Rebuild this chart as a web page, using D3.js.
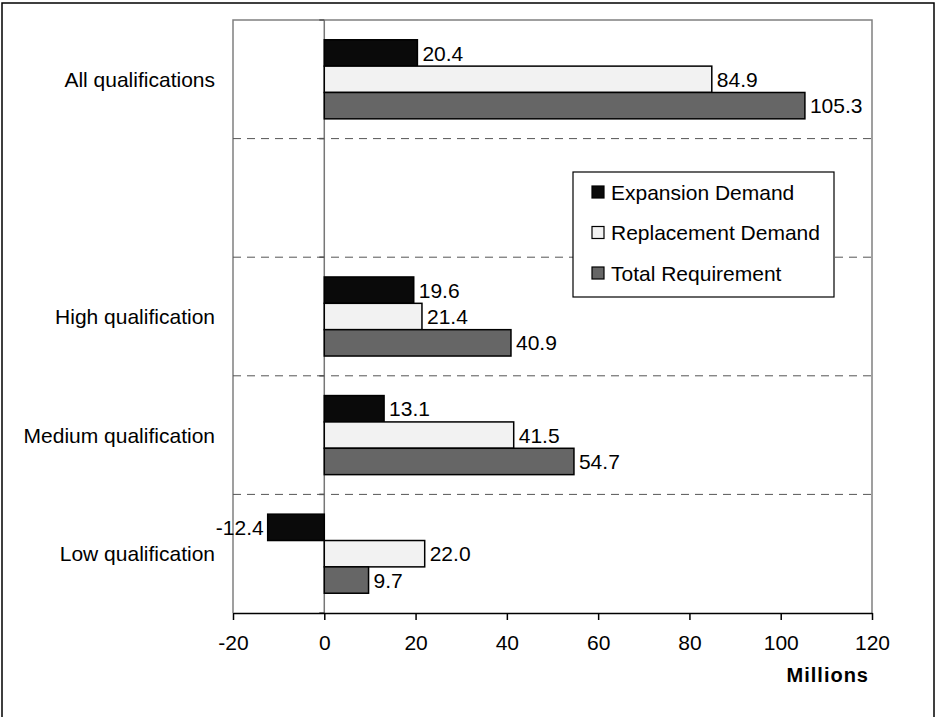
<html>
<head>
<meta charset="utf-8">
<title>Demand by qualification</title>
<script src="https://d3js.org/d3.v7.min.js"></script>
<style>
  body { margin: 0; background: #fff; }
  svg text { font-family: "Liberation Sans", Arial, sans-serif; fill: #000; }
</style>
</head>
<body>
<div id="chart"></div>
<script>
// data (millions)
const categories = ["All qualifications", "", "High qualification", "Medium qualification", "Low qualification"];
const seriesNames = ["Expansion Demand", "Replacement Demand", "Total Requirement"];
const expansion = [20.4, null, 19.6, 13.1, -12.4];
const replacement = [84.9, null, 21.4, 41.5, 22.0];
const total = [105.3, null, 40.9, 54.7, 9.7];
const xTicks = [-20, 0, 20, 40, 60, 80, 100, 120];

const colors = ["#0a0a0a", "#f2f2f2", "#666666"];
const seriesValues = [expansion, replacement, total];

const W = 936, H = 717;
const margin = { top: 20, right: 64, bottom: 104, left: 233 };
const width = 872 - margin.left, height = 613 - margin.top;

const svg = d3.select("#chart").append("svg")
  .attr("width", W).attr("height", H);

// outer frame (bottom edge runs off the picture)
svg.append("rect")
  .attr("x", 2).attr("y", 3).attr("width", 932).attr("height", H + 10)
  .attr("fill", "none").attr("stroke", "#000").attr("stroke-width", 1.5);

const g = svg.append("g").attr("transform", `translate(${margin.left},${margin.top})`);

const x = d3.scaleLinear().domain([-20, 120]).range([0, width]);
const y = d3.scaleBand().domain(categories.map((c, i) => i)).range([0, height]);
const ySub = d3.scaleBand().domain(seriesNames)
  .range([y.bandwidth() / 6, y.bandwidth() * 5 / 6]);

// plot area border (gray)
g.append("path")
  .attr("d", `M0,${height}V0H${width}V${height}`)
  .attr("fill", "none").attr("stroke", "#808080").attr("stroke-width", 1.5);

// dashed separators between categories
g.selectAll(".sep")
  .data(categories.slice(1).map((c, i) => i + 1))
  .enter().append("line")
  .attr("class", "sep")
  .attr("x1", 0).attr("x2", width)
  .attr("y1", d => y(d)).attr("y2", d => y(d))
  .attr("stroke", "#555").attr("stroke-width", 1)
  .attr("stroke-dasharray", "8,6");

// zero line with small category ticks
g.append("line")
  .attr("x1", x(0)).attr("x2", x(0)).attr("y1", 0).attr("y2", height)
  .attr("stroke", "#777").attr("stroke-width", 1.5);
g.selectAll(".ctick")
  .data(d3.range(categories.length + 1))
  .enter().append("line")
  .attr("x1", x(0) - 5).attr("x2", x(0))
  .attr("y1", d => d * y.step()).attr("y2", d => d * y.step())
  .attr("stroke", "#555").attr("stroke-width", 1.5);

// bars
const rows = [];
categories.forEach((c, i) => {
  seriesNames.forEach((s, k) => {
    const v = seriesValues[k][i];
    if (v !== null) rows.push({ i: i, key: s, k: k, value: v });
  });
});

g.selectAll(".bar")
  .data(rows)
  .enter().append("rect")
  .attr("class", "bar")
  .attr("x", d => x(Math.min(0, d.value)))
  .attr("y", d => y(d.i) + ySub(d.key))
  .attr("width", d => Math.abs(x(d.value) - x(0)))
  .attr("height", ySub.bandwidth())
  .attr("fill", d => colors[d.k])
  .attr("stroke", "#000").attr("stroke-width", 1.5);

g.selectAll(".val")
  .data(rows)
  .enter().append("text")
  .attr("class", "val")
  .attr("x", d => d.value < 0 ? x(d.value) - 4 : x(d.value) + 5)
  .attr("y", d => y(d.i) + ySub(d.key) + ySub.bandwidth() / 2)
  .attr("dy", "0.36em")
  .attr("text-anchor", d => d.value < 0 ? "end" : "start")
  .style("font-size", "21px")
  .text(d => d.value.toFixed(1));

// category labels
g.selectAll(".cat")
  .data(categories.map((c, i) => ({ c: c, i: i })).filter(d => d.c !== ""))
  .enter().append("text")
  .attr("class", "cat")
  .attr("x", -18)
  .attr("y", d => y(d.i) + y.bandwidth() / 2)
  .attr("dy", "0.36em")
  .attr("text-anchor", "end")
  .style("font-size", "21px")
  .text(d => d.c);

// x axis
const xAxis = g.append("g")
  .attr("transform", `translate(0,${height})`)
  .call(d3.axisBottom(x).tickValues(xTicks).tickFormat(d => String(d))
    .tickSize(7).tickPadding(15).tickSizeOuter(0));
xAxis.select(".domain").attr("stroke", "#000").attr("stroke-width", 1.5);
xAxis.selectAll(".tick line").attr("stroke", "#000").attr("stroke-width", 1.5);
xAxis.selectAll(".tick text")
  .style("font-size", "21px").style("font-family", "'Liberation Sans', Arial, sans-serif")
  .attr("fill", "#000");

svg.append("text")
  .attr("x", 869).attr("y", 682)
  .attr("text-anchor", "end")
  .style("font-size", "20px").style("font-weight", "bold").style("letter-spacing", "1px")
  .text("Millions");

// legend
const legend = svg.append("g").attr("transform", "translate(573,172)");
legend.append("rect")
  .attr("width", 261).attr("height", 125)
  .attr("fill", "#fff").attr("stroke", "#000").attr("stroke-width", 1.2);
const item = legend.selectAll(".item")
  .data(seriesNames)
  .enter().append("g")
  .attr("transform", (d, i) => `translate(19,${20 + i * 40.5})`);
item.append("rect")
  .attr("x", 0).attr("y", -6).attr("width", 12).attr("height", 12)
  .attr("fill", (d, i) => colors[i]).attr("stroke", "#000").attr("stroke-width", 1.2);
item.append("text")
  .attr("x", 19).attr("dy", "0.36em")
  .style("font-size", "21px")
  .text(d => d);
</script>
</body>
</html>
